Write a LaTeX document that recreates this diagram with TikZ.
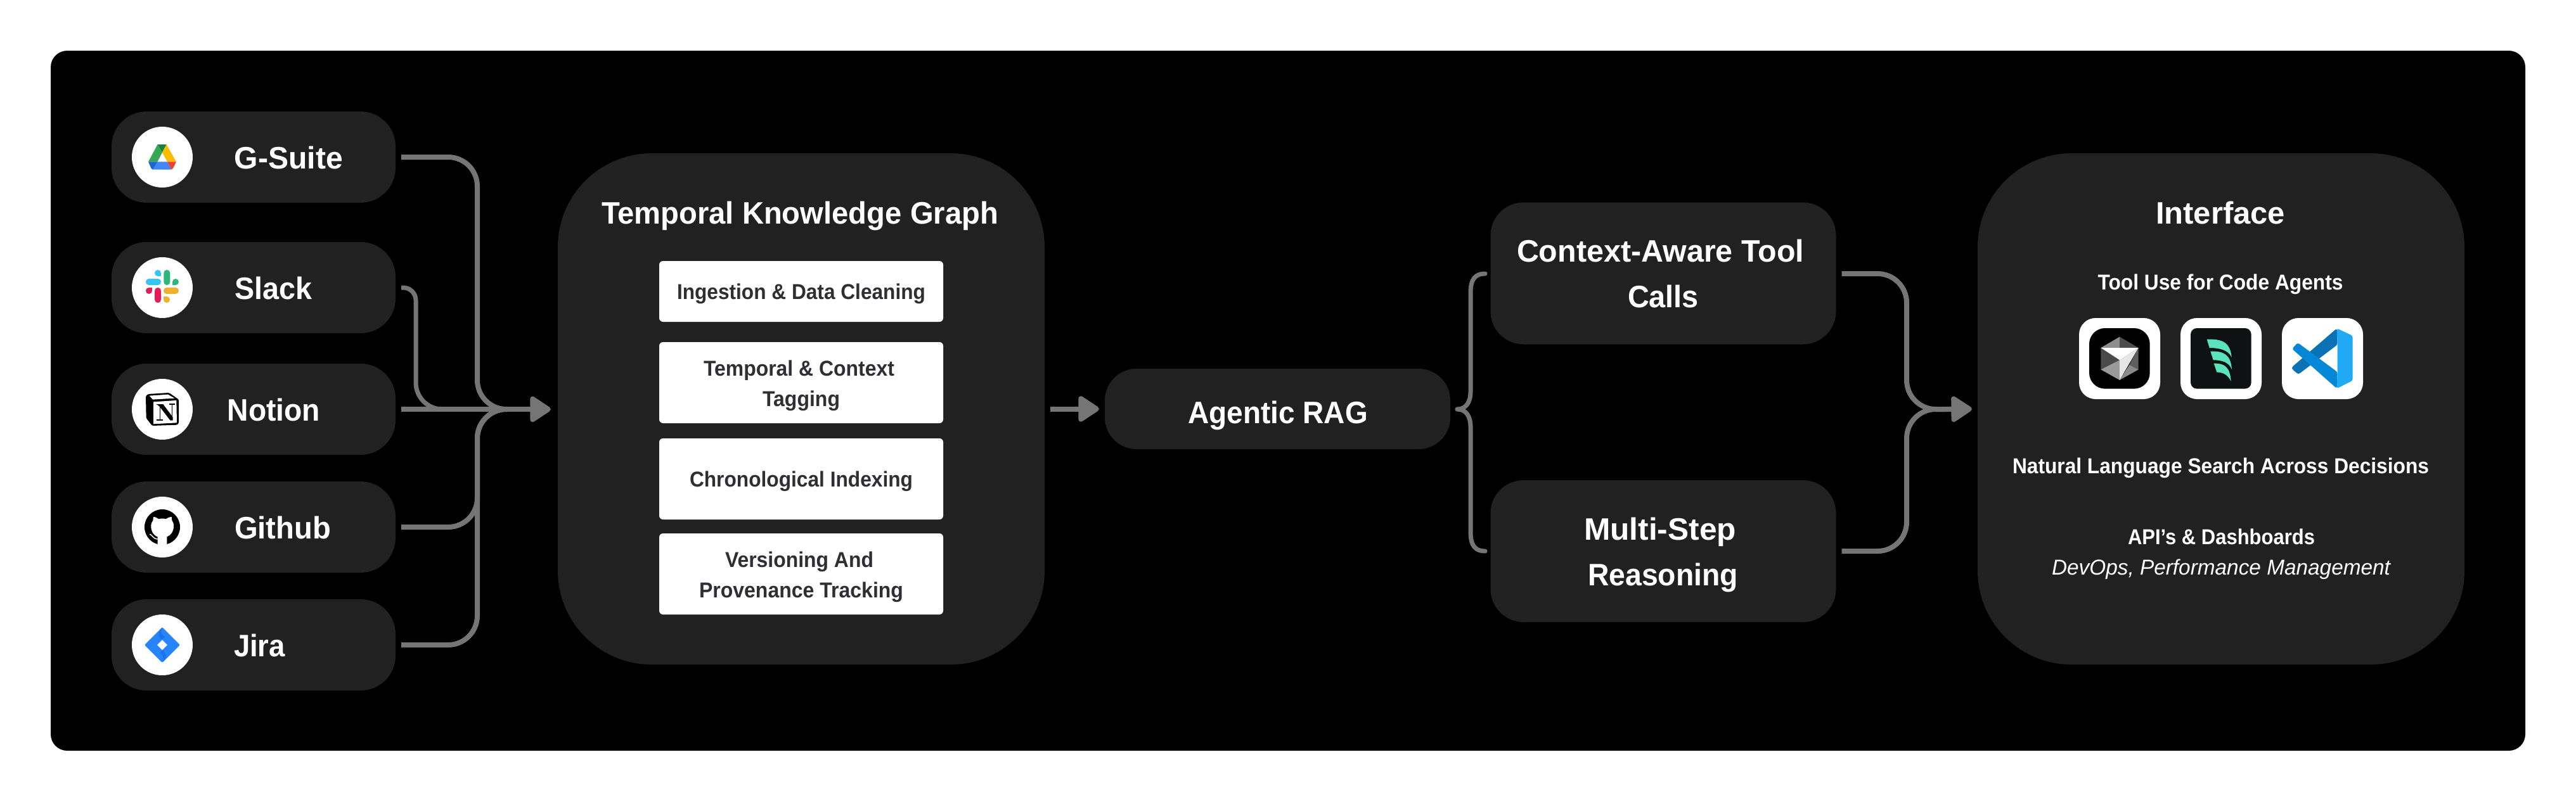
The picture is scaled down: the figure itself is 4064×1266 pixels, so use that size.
\documentclass[tikz,border=0pt]{standalone}
\usepackage{fontspec}
\usepackage{graphicx}
\setmainfont{Liberation Sans}
\usetikzlibrary{arrows.meta}
\definecolor{panel}{HTML}{212121}
\definecolor{wire}{HTML}{757575}
\definecolor{ink}{HTML}{2E2E33}
\newcommand{\dc}[1]{\definecolor{HTML#1}{HTML}{#1}}
\dc{34A853}\dc{188038}\dc{FBBC04}\dc{4285F4}\dc{1967D2}\dc{EA4335}
\dc{36C5F0}\dc{2EB67D}\dc{E01E5A}\dc{ECB22E}\dc{2684FF}\dc{1E74EA}
\dc{8E8E8E}\dc{4D4D4D}\dc{4A4A4A}\dc{9A9A9A}\dc{5E5E5E}\dc{8A8A8A}\dc{E6E6E6}
\dc{0F1212}\dc{5AE4BD}\dc{0A72B5}\dc{0288D6}\dc{22A9F5}
\newcommand{\wtext}[2]{\resizebox{#1pt}{\height}{#2}}
\tikzset{
  pill/.style={fill=panel,rounded corners=55pt,minimum width=448pt,minimum height=144pt,inner sep=0pt},
  bigpanel/.style={fill=panel,rounded corners=148pt,minimum width=768pt,minimum height=807pt,inner sep=0pt},
  midpanel/.style={fill=panel,rounded corners=52pt,minimum width=545pt,minimum height=224pt,inner sep=0pt},
  whitebox/.style={fill=white,rounded corners=6pt,minimum width=448pt,inner sep=0pt},
  iconbg/.style={circle,fill=white,minimum size=96pt,inner sep=0pt},
  tilebg/.style={fill=white,rounded corners=26pt,minimum size=128pt,inner sep=0pt},
  bigtxt/.style={font=\fontsize{49}{49}\selectfont\bfseries,text=white,inner sep=0pt,anchor=base},
  smalltxt/.style={font=\fontsize{34}{34}\selectfont\bfseries,text=white,inner sep=0pt,anchor=base},
  boxtxt/.style={font=\fontsize{34}{34}\selectfont\bfseries,text=ink,inner sep=0pt,anchor=base},
  italtxt/.style={font=\fontsize{34}{34}\selectfont\itshape,text=white,inner sep=0pt,anchor=base},
  conn/.style={draw=wire,line width=8pt},
  brace/.style={draw=wire,line width=7pt,line cap=round},
  tip/.style={-{Triangle[length=36pt,width=45pt,round]}},
  px3/.style={x=0.33333pt,y=-0.33333pt}
}
\begin{document}
\begin{tikzpicture}[x=1pt,y=-1pt]
\useasboundingbox (0,0) rectangle (4064,1266);
\fill[white] (0,0) rectangle (4064,1266);
\fill[black,rounded corners=26pt] (80,80) rectangle (3984,1185);

% source pills
\node[pill] (gsuite) at (400,248) {};
\node[pill] (slack)  at (400,454) {};
\node[pill] (notion) at (400,646) {};
\node[pill] (github) at (400,832) {};
\node[pill] (jira)   at (400,1018) {};
\node[iconbg] (gsuiteicon) at (256,248) {};
\node[iconbg] (slackicon)  at (256,454) {};
\node[iconbg] (notionicon) at (256,646) {};
\node[iconbg] (githubicon) at (256,832) {};
\node[iconbg] (jiraicon)   at (256,1018) {};
\node[bigtxt] (gsuitetxt) at (455.5,266) {\wtext{171}{G-Suite}};
\node[bigtxt] (slacktxt)  at (431,472) {\wtext{122}{Slack}};
\node[bigtxt] (notiontxt) at (432,664) {\wtext{146.5}{Notion}};
\node[bigtxt] (githubtxt) at (446,850) {\wtext{152}{Github}};
\node[bigtxt] (jiratxt)   at (409.5,1036) {\wtext{81}{Jira}};

% panels
\node[bigpanel] (tkg) at (1264,645.5) {};
\node[bigtxt] (tkgtitle) at (1262,353) {\wtext{626}{Temporal Knowledge Graph}};
\node[whitebox,minimum height=96pt] (b1) at (1264,460) {};
\node[whitebox,minimum height=128pt] (b2) at (1264,604) {};
\node[whitebox,minimum height=128pt] (b3) at (1264,756) {};
\node[whitebox,minimum height=128pt] (b4) at (1264,906) {};
\node[boxtxt] (b1t) at (1264,472) {\wtext{392}{Ingestion \& Data Cleaning}};
\node[boxtxt] (b2t) at (1260.5,593) {\wtext{301}{Temporal \& Context}};
\node[boxtxt] (b2u) at (1264,641) {\wtext{122}{Tagging}};
\node[boxtxt] (b3t) at (1264,768.5) {\wtext{352}{Chronological Indexing}};
\node[boxtxt] (b4t) at (1261,895) {\wtext{234}{Versioning And}};
\node[boxtxt] (b4u) at (1264,943) {\wtext{322}{Provenance Tracking}};

\node[fill=panel,rounded corners=50pt,minimum width=545pt,minimum height=127pt,inner sep=0pt] (rag) at (2015.5,645.5) {};
\node[bigtxt] (ragt) at (2016,668) {\wtext{284}{Agentic RAG}};

\node[midpanel] (ctx) at (2624,431.5) {};
\node[midpanel] (multi) at (2624,870) {};
\node[bigtxt] (ctxa) at (2619.5,413.5) {\wtext{453}{Context-Aware Tool}};
\node[bigtxt] (ctxb) at (2624,485) {\wtext{112}{Calls}};
\node[bigtxt] (multia) at (2619,852) {\wtext{240}{Multi-Step}};
\node[bigtxt] (multib) at (2623.5,924) {\wtext{237}{Reasoning}};

\node[bigpanel] (iface) at (3504,645.5) {};
\node[bigtxt] (ifacet) at (3503,353) {\wtext{204}{Interface}};
\node[smalltxt] (tool) at (3503,457) {\wtext{387}{Tool Use for Code Agents}};
\node[tilebg] (tile1) at (3344,566) {};
\node[tilebg] (tile2) at (3504,566) {};
\node[tilebg] (tile3) at (3664,566) {};
\node[smalltxt] (nl) at (3503.5,747.5) {\wtext{657}{Natural Language Search Across Decisions}};
\node[smalltxt] (api) at (3504.5,859) {\wtext{295}{API’s \& Dashboards}};
\node[italtxt] (dev) at (3504,907) {\wtext{534}{DevOps, Performance Management}};

% connectors, left bundle
\coordinate (busL) at (753,646);
\coordinate (busS) at (656,646);
\coordinate (joinL) at (800,646);
\draw[conn,shorten <=9pt,rounded corners=46pt] (gsuite.east) -| (busL) -- (joinL);
\draw[conn,shorten <=9pt,line width=7pt,rounded corners=20pt] (slack.east) -- (busS |- slack.east) [rounded corners=42pt] -- (busS) -- (joinL);
\draw[conn,shorten <=9pt,rounded corners=46pt] (github.east) -| (busL) -- (joinL);
\draw[conn,shorten <=9pt,rounded corners=46pt] (jira.east) -| (busL) -- (joinL);
\draw[conn,tip,shorten <=9pt,shorten >=11pt] (notion.east) -- (tkg.west |- notion.east);

% connectors, middle
\draw[conn,tip,shorten <=9pt,shorten >=9pt] (tkg.east |- rag.west) -- (rag.west);

% brace
\coordinate (braceTip) at (2299,646);
\coordinate (braceX) at (2320,646);
\coordinate (braceTop) at (2343,432);
\coordinate (braceBot) at (2343,870);
\draw[brace] (braceTop) .. controls (2328,432) and (2320,440) .. (2320,462) -- (2320,618) .. controls (2320,636) and (2312,646) .. (braceTip);
\draw[brace] (braceBot) .. controls (2328,870) and (2320,862) .. (2320,840) -- (2320,674) .. controls (2320,656) and (2312,646) .. (braceTip);

% connectors, right bundle
\coordinate (busR) at (3008,646);
\coordinate (joinR) at (3070,646);
\draw[conn,shorten <=9pt,rounded corners=46pt] (ctx.east |- braceTop) -| (busR) -- (joinR);
\draw[conn,shorten <=9pt,rounded corners=46pt] (multi.east |- braceBot) -| (busR) -- (joinR);
\draw[conn,tip,shorten >=9pt] (joinR) -- (iface.west);

% Drive icon
\begin{scope}[shift={(170,170)},px3]
\fill[white] (235,256)--(282,256)--(258,212)--cycle;
\fill[HTML34A853] (236,174)--(258,212)--(235,256)--(192,256)--cycle;
\fill[HTML188038] (236,174)--(278,174)--(258,212)--cycle;
\fill[HTMLFBBC04] (278,174)--(324,256)--(282,256)--(258,212)--cycle;
\fill[HTML4285F4] (235,256)--(282,256)--(302,293)--(214,293)--cycle;
\fill[HTML1967D2] (192,256)--(235,256)--(214,293)--(206,288)--cycle;
\fill[HTMLEA4335] (282,256)--(324,256)--(310,285)--(302,293)--cycle;
% Slack icon
\fill[HTML36C5F0,rounded corners=4.9pt] (180,810) rectangle (252,840);
\fill[HTML36C5F0] (237,783) circle[radius=15];
\fill[HTML36C5F0] (237,783) rectangle (252,798);
\fill[HTML2EB67D,rounded corners=4.9pt] (265,768) rectangle (295,840);
\fill[HTML2EB67D] (321,825) circle[radius=15];
\fill[HTML2EB67D] (306,825) rectangle (321,840);
\fill[HTMLE01E5A,rounded corners=4.9pt] (222,852) rectangle (252,924);
\fill[HTMLE01E5A] (195,867) circle[radius=15];
\fill[HTMLE01E5A] (195,852) rectangle (210,867);
\fill[HTMLECB22E,rounded corners=4.9pt] (264,852) rectangle (336,882);
\fill[HTMLECB22E] (279,909) circle[radius=15];
\fill[HTMLECB22E] (264,894) rectangle (279,909);
\end{scope}

\begin{scope}[shift={(170,560)},px3]
% Notion icon
\fill[black,rounded corners=1.5pt] (180,195)--(192,186)--(290,180)--(336,212)--(336,325)--(328,332)--(210,336)--(182,300)--cycle;
\fill[white] (197,194)--(285,188)--(316,206)--(213,212)--cycle;
\fill[white] (216,223)--(325,216)--(327,322)--(216,328)--cycle;
\fill[black] (234,236)--(262,234)--(308,296)--(308,311)--(296,311)--(246,246)--cycle;
\draw[black,line width=1pt] (247,238)--(247,308);
\draw[black,line width=1pt] (305,233)--(305,300);
\fill[black] (232,233) rectangle (258,238);
\fill[black] (232,306) rectangle (262,311);
\fill[black] (290,231) rectangle (318,236);
% Github icon
\fill[black] (258,816) circle[radius=84];
\fill[white] (236,902)--(236,862) .. controls (215,855) and (205,835) .. (205,812) .. controls (205,800) and (208,792) .. (214,785)--(216,768) .. controls (228,768) and (236,775) .. (240,778) .. controls (250,775) and (266,775) .. (276,778) .. controls (280,775) and (290,768) .. (302,768)--(304,785) .. controls (310,792) and (312,800) .. (312,812) .. controls (312,835) and (300,855) .. (280,862)--(280,902)--cycle;
\draw[white,line width=1.4pt] (198,850) .. controls (210,850) and (212,872) .. (236,873);
% Jira icon
\fill[HTML2684FF,rounded corners=1.5pt] (258,1290)--(342,1374)--(258,1458)--(174,1374)--cycle;
\fill[HTML1E74EA] (258,1292)--(246,1304) .. controls (236,1320) and (240,1338) .. (258,1350)--(270,1336) .. controls (252,1322) and (250,1306) .. (258,1292)--cycle;
\fill[HTML1E74EA] (258,1456)--(270,1444) .. controls (280,1428) and (276,1410) .. (258,1398)--(246,1412) .. controls (264,1426) and (266,1442) .. (258,1456)--cycle;
\fill[white] (258,1350)--(282,1374)--(258,1398)--(234,1374)--cycle;
\end{scope}

\begin{scope}[shift={(3250,480)},px3]
% hex icon
\fill[black,rounded corners=25pt] (138,114) rectangle (425,401);
\fill[HTML8E8E8E] (193,207)--(282,155)--(282,207)--cycle;
\fill[HTML4D4D4D] (282,155)--(371,207)--(282,207)--cycle;
\fill[HTML4A4A4A] (193,207)--(193,310)--(282,265)--cycle;
\fill[HTML9A9A9A] (193,310)--(282,265)--(282,360)--cycle;
\fill[HTML5E5E5E] (371,207)--(371,310)--(328,288)--cycle;
\fill[HTML8A8A8A] (371,310)--(282,360)--(328,288)--cycle;
\fill[HTMLE6E6E6] (371,207)--(282,265)--(282,360)--cycle;
\fill[white] (193,207)--(371,207)--(282,265)--cycle;
% green icon
\fill[HTML0F1212,rounded corners=10pt] (618,114) rectangle (905,401);
\fill[HTML5AE4BD] (695,167) .. controls (760,165) and (805,175) .. (812,252) .. controls (795,215) and (750,208) .. (707,207)--cycle;
\fill[HTML5AE4BD] (712,224) .. controls (770,222) and (808,235) .. (813,310) .. controls (800,275) and (765,265) .. (725,265)--cycle;
\fill[HTML5AE4BD] (728,281) .. controls (775,280) and (805,295) .. (809,366) .. controls (795,335) and (770,322) .. (742,323)--cycle;
% VS Code icon
\fill[HTML0A72B5,rounded corners=3pt] (1310,115)--(1313,192)--(1128,333)--(1098,308)--(1098,298)--cycle;
\fill[HTML0288D6,rounded corners=3pt] (1098,212)--(1125,183)--(1313,322)--(1310,400)--cycle;
\fill[HTML22A9F5,rounded corners=3pt] (1310,115)--(1385,150)--(1385,362)--(1310,400)--(1313,322)--(1313,192)--cycle;
\end{scope}
\end{tikzpicture}
\end{document}
